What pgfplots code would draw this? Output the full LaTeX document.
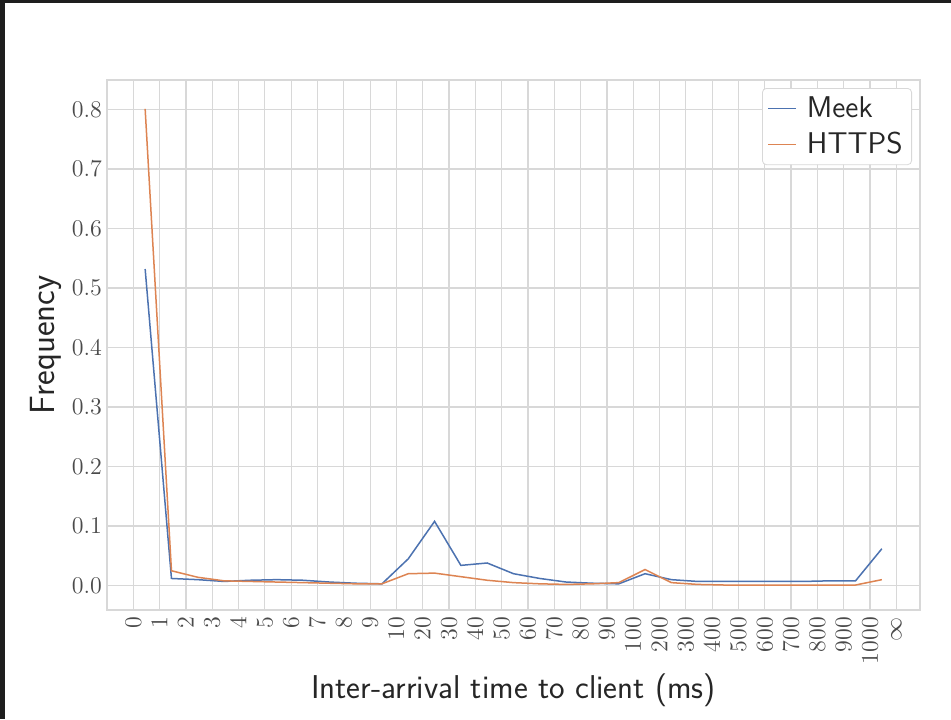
\documentclass[border=0pt]{standalone}
\usepackage{pgfplots}
\usepackage{pgfplotstable}
\pgfplotsset{compat=1.18}
\definecolor{colMeek}{HTML}{4C72B0}
\definecolor{colHttps}{HTML}{DD8452}
\definecolor{gridc}{HTML}{D8D8D8}
\definecolor{framec}{HTML}{1E1E1E}
\definecolor{txt}{HTML}{262626}
\definecolor{tickc}{HTML}{4A4A4A}
\pgfplotstableread{
x meek https
0.45 0.532 0.801
1.45 0.012 0.025
2.45 0.010 0.014
3.45 0.007 0.008
4.45 0.009 0.007
5.45 0.010 0.006
6.45 0.009 0.005
7.45 0.006 0.004
8.45 0.004 0.003
9.45 0.003 0.003
10.45 0.045 0.020
11.45 0.108 0.021
12.45 0.034 0.015
13.45 0.038 0.009
14.45 0.020 0.005
15.45 0.012 0.003
16.45 0.006 0.002
17.45 0.004 0.003
18.45 0.003 0.005
19.45 0.020 0.027
20.45 0.010 0.005
21.45 0.007 0.002
22.45 0.007 0.001
23.45 0.007 0.001
24.45 0.007 0.001
25.45 0.007 0.001
26.45 0.008 0.001
27.45 0.008 0.001
28.45 0.062 0.010
}\datatable
\begin{document}
\begin{tikzpicture}
\useasboundingbox (0,0) rectangle (475.5pt,359.5pt);
\fill[white] (0,0) rectangle (475.5pt,359.5pt);
\fill[framec] (0,358pt) rectangle (475.5pt,359.5pt);
\fill[framec] (0,0) rectangle (2.5pt,359.5pt);
\begin{axis}[
  at={(53.5pt,54.5pt)}, anchor=south west,
  scale only axis, width=406.5pt, height=265pt,
  xmin=-1.0, xmax=29.9, ymin=-0.041, ymax=0.8496,
  xtick={0,...,29},
  xticklabels={$0$,$1$,$2$,$3$,$4$,$5$,$6$,$7$,$8$,$9$,$10$,$20$,$30$,$40$,$50$,$60$,$70$,$80$,$90$,$100$,$200$,$300$,$400$,$500$,$600$,$700$,$800$,$900$,$1000$,$\infty$},
  ytick={0,0.1,0.2,0.3,0.4,0.5,0.6,0.7,0.8},
  yticklabel style={/pgf/number format/.cd, fixed, fixed zerofill, precision=1, /tikz/.cd, font=\fontsize{12}{12}\selectfont, text=tickc, xshift=1pt},
  xticklabel style={rotate=90, anchor=east, font=\fontsize{12}{12}\selectfont, text=tickc},
  grid=major,
  major grid style={gridc, line width=0.6pt},
  axis line style={gridc, line width=0.6pt},
  tick style={draw=none},
  xlabel={Inter-arrival time to client (ms)},
  ylabel={Frequency},
  xlabel style={at={(axis description cs:0.5,-0.151)}, anchor=center, font=\sffamily\fontsize{16.5}{18}\selectfont, text=txt},
  ylabel style={at={(axis description cs:-0.075,0.5)}, anchor=center, font=\sffamily\fontsize{17.5}{19}\selectfont, text=txt},
  legend cell align=left,
  legend image code/.code={\draw[#1, line width=0.75pt] (0pt,0pt) -- (14pt,0pt); \path (17pt,0pt);},
  legend style={at={(rel axis cs:1,1)}, anchor=north east, xshift=-4pt, yshift=-4pt,
    draw=gridc, fill=white, rounded corners=2pt, font=\sffamily\fontsize{15}{16}\selectfont, text=txt,
    inner xsep=2.5pt, inner ysep=2pt, row sep=2pt},
]
\addplot[color=colMeek, line width=0.75pt] table[x=x, y=meek] {\datatable};
\addlegendentry{Meek}
\addplot[color=colHttps, line width=0.75pt] table[x=x, y=https] {\datatable};
\addlegendentry{HTTPS}
\end{axis}
\end{tikzpicture}
\end{document}
